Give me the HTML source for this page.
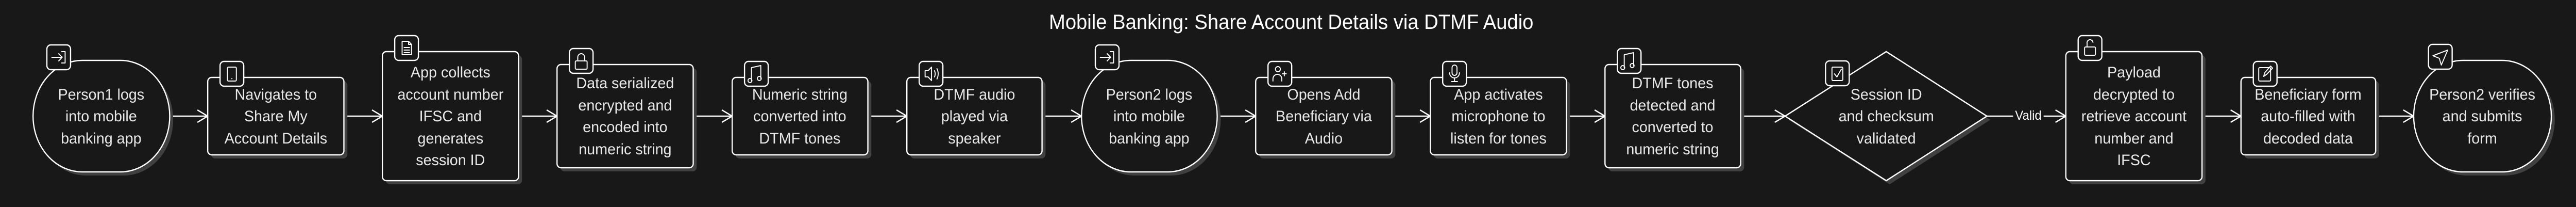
<!DOCTYPE html>
<html><head><meta charset="utf-8"><style>
html,body{margin:0;padding:0;background:#181818;width:100%;height:100%;overflow:hidden;}
svg{display:block;position:absolute;left:0;top:0}
text{font-family:"Liberation Sans",sans-serif;fill:#e8e8e8}
</style></head><body>
<svg width="100%" height="100%" viewBox="0 0 5221 401" preserveAspectRatio="none" xmlns="http://www.w3.org/2000/svg">
<rect width="5221" height="401" fill="#181818"/>
<text x="2617" y="56" font-size="40" text-anchor="middle" textLength="982" lengthAdjust="spacingAndGlyphs" style="fill:#fff">Mobile Banking: Share Account Details via DTMF Audio</text>

<g stroke="#fff" stroke-width="2.5" fill="none">
<path d="M344 225H421M400 213L421 225L400 237"/>
<path d="M697 225H775M754 213L775 225L754 237"/>
<path d="M1051 225H1129M1108 213L1129 225L1108 237"/>
<path d="M1405 225H1484M1463 213L1484 225L1463 237"/>
<path d="M1759 225H1838M1817 213L1838 225L1817 237"/>
<path d="M2112 225H2192M2171 213L2192 225L2171 237"/>
<path d="M2467 225H2545M2524 213L2545 225L2524 237"/>
<path d="M2821 225H2899M2878 213L2899 225L2878 237"/>
<path d="M3175 225H3253M3232 213L3253 225L3232 237"/>
<path d="M3528 225H3618M3597 213L3618 225L3597 237"/>
<path d="M4027 225H4080M4142 225H4187M4166 213L4187 225L4166 237"/>
<path d="M4463 225H4542M4521 213L4542 225L4521 237"/>
<path d="M4815 225H4892M4871 213L4892 225L4871 237"/>
</g>
<text x="4111" y="232" font-size="25" text-anchor="middle" style="fill:#fff">Valid</text>

<g fill="#404040">
<rect x="74" y="124" width="277" height="216" rx="100" ry="108"/>
<rect x="428" y="157" width="276" height="150" rx="8"/>
<rect x="782" y="107" width="276" height="250" rx="8"/>
<rect x="1136" y="132" width="276" height="200" rx="8"/>
<rect x="1491" y="157" width="275" height="150" rx="8"/>
<rect x="1845" y="157" width="274" height="150" rx="8"/>
<rect x="2199" y="124" width="275" height="216" rx="100" ry="108"/>
<rect x="2552" y="157" width="276" height="150" rx="8"/>
<rect x="2906" y="157" width="276" height="150" rx="8"/>
<rect x="3260" y="132" width="275" height="200" rx="8"/>
<polygon points="3625,232 3830,107 4034,232 3830,357"/>
<rect x="4194" y="107" width="276" height="250" rx="8"/>
<rect x="4549" y="157" width="273" height="150" rx="8"/>
<rect x="4899" y="124" width="279" height="216" rx="100" ry="108"/>
</g>
<g fill="#181818" stroke="#fff" stroke-width="2.5">
<rect x="67" y="117" width="277" height="216" rx="100" ry="108"/>
<rect x="421" y="150" width="276" height="150" rx="8"/>
<rect x="775" y="100" width="276" height="250" rx="8"/>
<rect x="1129" y="125" width="276" height="200" rx="8"/>
<rect x="1484" y="150" width="275" height="150" rx="8"/>
<rect x="1838" y="150" width="274" height="150" rx="8"/>
<rect x="2192" y="117" width="275" height="216" rx="100" ry="108"/>
<rect x="2545" y="150" width="276" height="150" rx="8"/>
<rect x="2899" y="150" width="276" height="150" rx="8"/>
<rect x="3253" y="125" width="275" height="200" rx="8"/>
<polygon points="3618,225 3823,100 4027,225 3823,350"/>
<rect x="4187" y="100" width="276" height="250" rx="8"/>
<rect x="4542" y="150" width="273" height="150" rx="8"/>
<rect x="4892" y="117" width="279" height="216" rx="100" ry="108"/>
</g>

<g font-size="30" text-anchor="middle">
<text x="205" y="193">Person1 logs</text><text x="205" y="235">into mobile</text><text x="205" y="278">banking app</text>
<text x="559" y="193">Navigates to</text><text x="559" y="235">Share My</text><text x="559" y="278">Account Details</text>
<text x="913" y="150">App collects</text><text x="913" y="193">account number</text><text x="913" y="235">IFSC and</text><text x="913" y="278">generates</text><text x="913" y="320">session ID</text>
<text x="1267" y="171">Data serialized</text><text x="1267" y="214">encrypted and</text><text x="1267" y="256">encoded into</text><text x="1267" y="299">numeric string</text>
<text x="1621" y="193">Numeric string</text><text x="1621" y="235">converted into</text><text x="1621" y="278">DTMF tones</text>
<text x="1975" y="193">DTMF audio</text><text x="1975" y="235">played via</text><text x="1975" y="278">speaker</text>
<text x="2329" y="193">Person2 logs</text><text x="2329" y="235">into mobile</text><text x="2329" y="278">banking app</text>
<text x="2683" y="193">Opens Add</text><text x="2683" y="235">Beneficiary via</text><text x="2683" y="278">Audio</text>
<text x="3037" y="193">App activates</text><text x="3037" y="235">microphone to</text><text x="3037" y="278">listen for tones</text>
<text x="3390" y="171">DTMF tones</text><text x="3390" y="214">detected and</text><text x="3390" y="256">converted to</text><text x="3390" y="299">numeric string</text>
<text x="3823" y="193">Session ID</text><text x="3823" y="235">and checksum</text><text x="3823" y="278">validated</text>
<text x="4325" y="150">Payload</text><text x="4325" y="193">decrypted to</text><text x="4325" y="235">retrieve account</text><text x="4325" y="278">number and</text><text x="4325" y="320">IFSC</text>
<text x="4678" y="193">Beneficiary form</text><text x="4678" y="235">auto-filled with</text><text x="4678" y="278">decoded data</text>
<text x="5031" y="193">Person2 verifies</text><text x="5031" y="235">and submits</text><text x="5031" y="278">form</text>
</g>

<g fill="#181818" stroke="#fff" stroke-width="2.5">
<rect x="95" y="87" width="48" height="48" rx="8"/>
<rect x="446" y="119" width="48" height="48" rx="8"/>
<rect x="800" y="69" width="48" height="48" rx="8"/>
<rect x="1154" y="94" width="48" height="48" rx="8"/>
<rect x="1509" y="119" width="48" height="48" rx="8"/>
<rect x="1863" y="119" width="48" height="48" rx="8"/>
<rect x="2220" y="87" width="48" height="48" rx="8"/>
<rect x="2570" y="119" width="48" height="48" rx="8"/>
<rect x="2924" y="119" width="48" height="48" rx="8"/>
<rect x="3278" y="94" width="48" height="48" rx="8"/>
<rect x="3700" y="118" width="48" height="48" rx="8"/>
<rect x="4212" y="69" width="48" height="48" rx="8"/>
<rect x="4567" y="119" width="48" height="48" rx="8"/>
<rect x="4922" y="86" width="48" height="48" rx="8"/>
</g>
<g fill="none" stroke="#fff" stroke-width="2" stroke-linecap="round" stroke-linejoin="round">
<path d="M105 111H126M119 104L126 111L119 118M125 100H132V122H125"/>
<path d="M2230 111H2251M2244 104L2251 111L2244 118M2250 100H2257V122H2250"/>
<rect x="461" y="130" width="18" height="27" rx="2"/><path d="M470 152v0.5"/>
<path d="M815 80H828L834 86V106H815ZM828 80V86H834M819 92H830M819 97H830M819 102H830"/>
<rect x="1166" y="118" width="24" height="16" rx="2"/><path d="M1171 118V111A7 7 0 0 1 1185 111V118"/>
<path d="M1523 156V131L1542 127V152"/><circle cx="1520" cy="156" r="4"/><circle cx="1539" cy="152" r="4"/>
<path d="M3292 131V106L3311 102V127"/><circle cx="3289" cy="131" r="4"/><circle cx="3308" cy="127" r="4"/>
<path d="M1875 137H1881L1888 130V156L1881 149H1875ZM1894 137Q1897 143 1894 149M1899 133Q1904 143 1899 153"/>
<circle cx="2590" cy="134" r="5"/><path d="M2580 157V153A8 8 0 0 1 2598 153V157M2603 139V147M2599 143H2607"/>
<rect x="2943" y="126" width="10" height="20" rx="5"/><path d="M2938 141A10 10 0 0 0 2958 141M2948 151V158M2942 158H2954"/>
<rect x="3713" y="130" width="22" height="26" rx="2"/><path d="M3718 143L3723 149L3732 134"/>
<rect x="4225" y="91" width="22" height="16" rx="2"/><path d="M4230 91V84A6 6 0 0 1 4242 82"/>
<rect x="4578" y="131" width="24" height="26" rx="2"/><path d="M4588 148L4590 141L4602 128L4606 132L4594 144Z"/>
<path d="M4961 97L4931 108L4944 113L4948 126Z"/>
</g>
</svg>
</body></html>
